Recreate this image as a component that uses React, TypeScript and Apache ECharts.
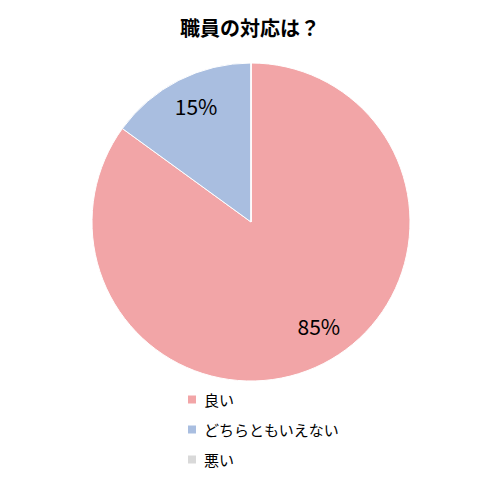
import React, { useEffect, useRef } from "react";
import * as echarts from "echarts";

const categories = ["良い", "どちらともいえない", "悪い"];
const values = [85, 15, 0];
const colors = ["#F2A5A7", "#A9BEE0", "#D9D9D9"];
const titleText = "職員の対応は？";

export default function App() {
  const ref = useRef<HTMLDivElement>(null);
  useEffect(() => {
    document.body.style.margin = "0";
    const chart = echarts.init(ref.current!, null, { renderer: "svg" });
    const data = categories.map((name, i) => ({
      name,
      value: values[i],
      itemStyle: { color: colors[i] },
    }));
    const font = "'Noto Sans CJK JP', 'Noto Sans', sans-serif";
    chart.setOption({
      animation: false,
      backgroundColor: "#ffffff",
      title: {
        text: titleText,
        left: "center",
        top: 17,
        padding: 0,
        textStyle: { fontFamily: font, fontSize: 20, fontWeight: "bold", color: "#000" },
      },
      legend: {
        orient: "vertical",
        left: 186,
        top: 392,
        padding: 0,
        itemWidth: 10,
        itemHeight: 10,
        itemGap: 15,
        icon: "rect",
        data: categories,
        textStyle: { fontFamily: font, fontSize: 15, color: "#000", padding: [0, 0, 0, 2] },
      },
      series: [
        {
          type: "pie",
          center: [251, 222],
          radius: [0, 159],
          startAngle: 90,
          clockwise: true,
          label: { show: false },
          labelLine: { show: false },
          itemStyle: { borderColor: "#ffffff", borderWidth: 1 },
          emphasis: { disabled: true },
          data,
        },
        {
          type: "pie",
          center: [251, 222],
          radius: [90, 159],
          startAngle: 90,
          clockwise: true,
          silent: true,
          legendHoverLink: false,
          itemStyle: { color: "transparent", borderWidth: 0 },
          label: {
            show: true,
            position: "inside",
            fontFamily: font,
            fontSize: 21,
            color: "#000",
            formatter: (p: any) => (p.value > 0 ? `${p.value}%` : ""),
          },
          labelLayout: (p: any) => (p.dataIndex === 0 ? { dx: 10, dy: -10 } : { dx: 3, dy: -2 }),
          labelLine: { show: false },
          emphasis: { disabled: true },
          data: categories.map((name, i) => ({ name: name + " ", value: values[i] })),
        },
      ],
    });
    return () => chart.dispose();
  }, []);
  return <div ref={ref} style={{ width: 500, height: 500 }} />;
}
